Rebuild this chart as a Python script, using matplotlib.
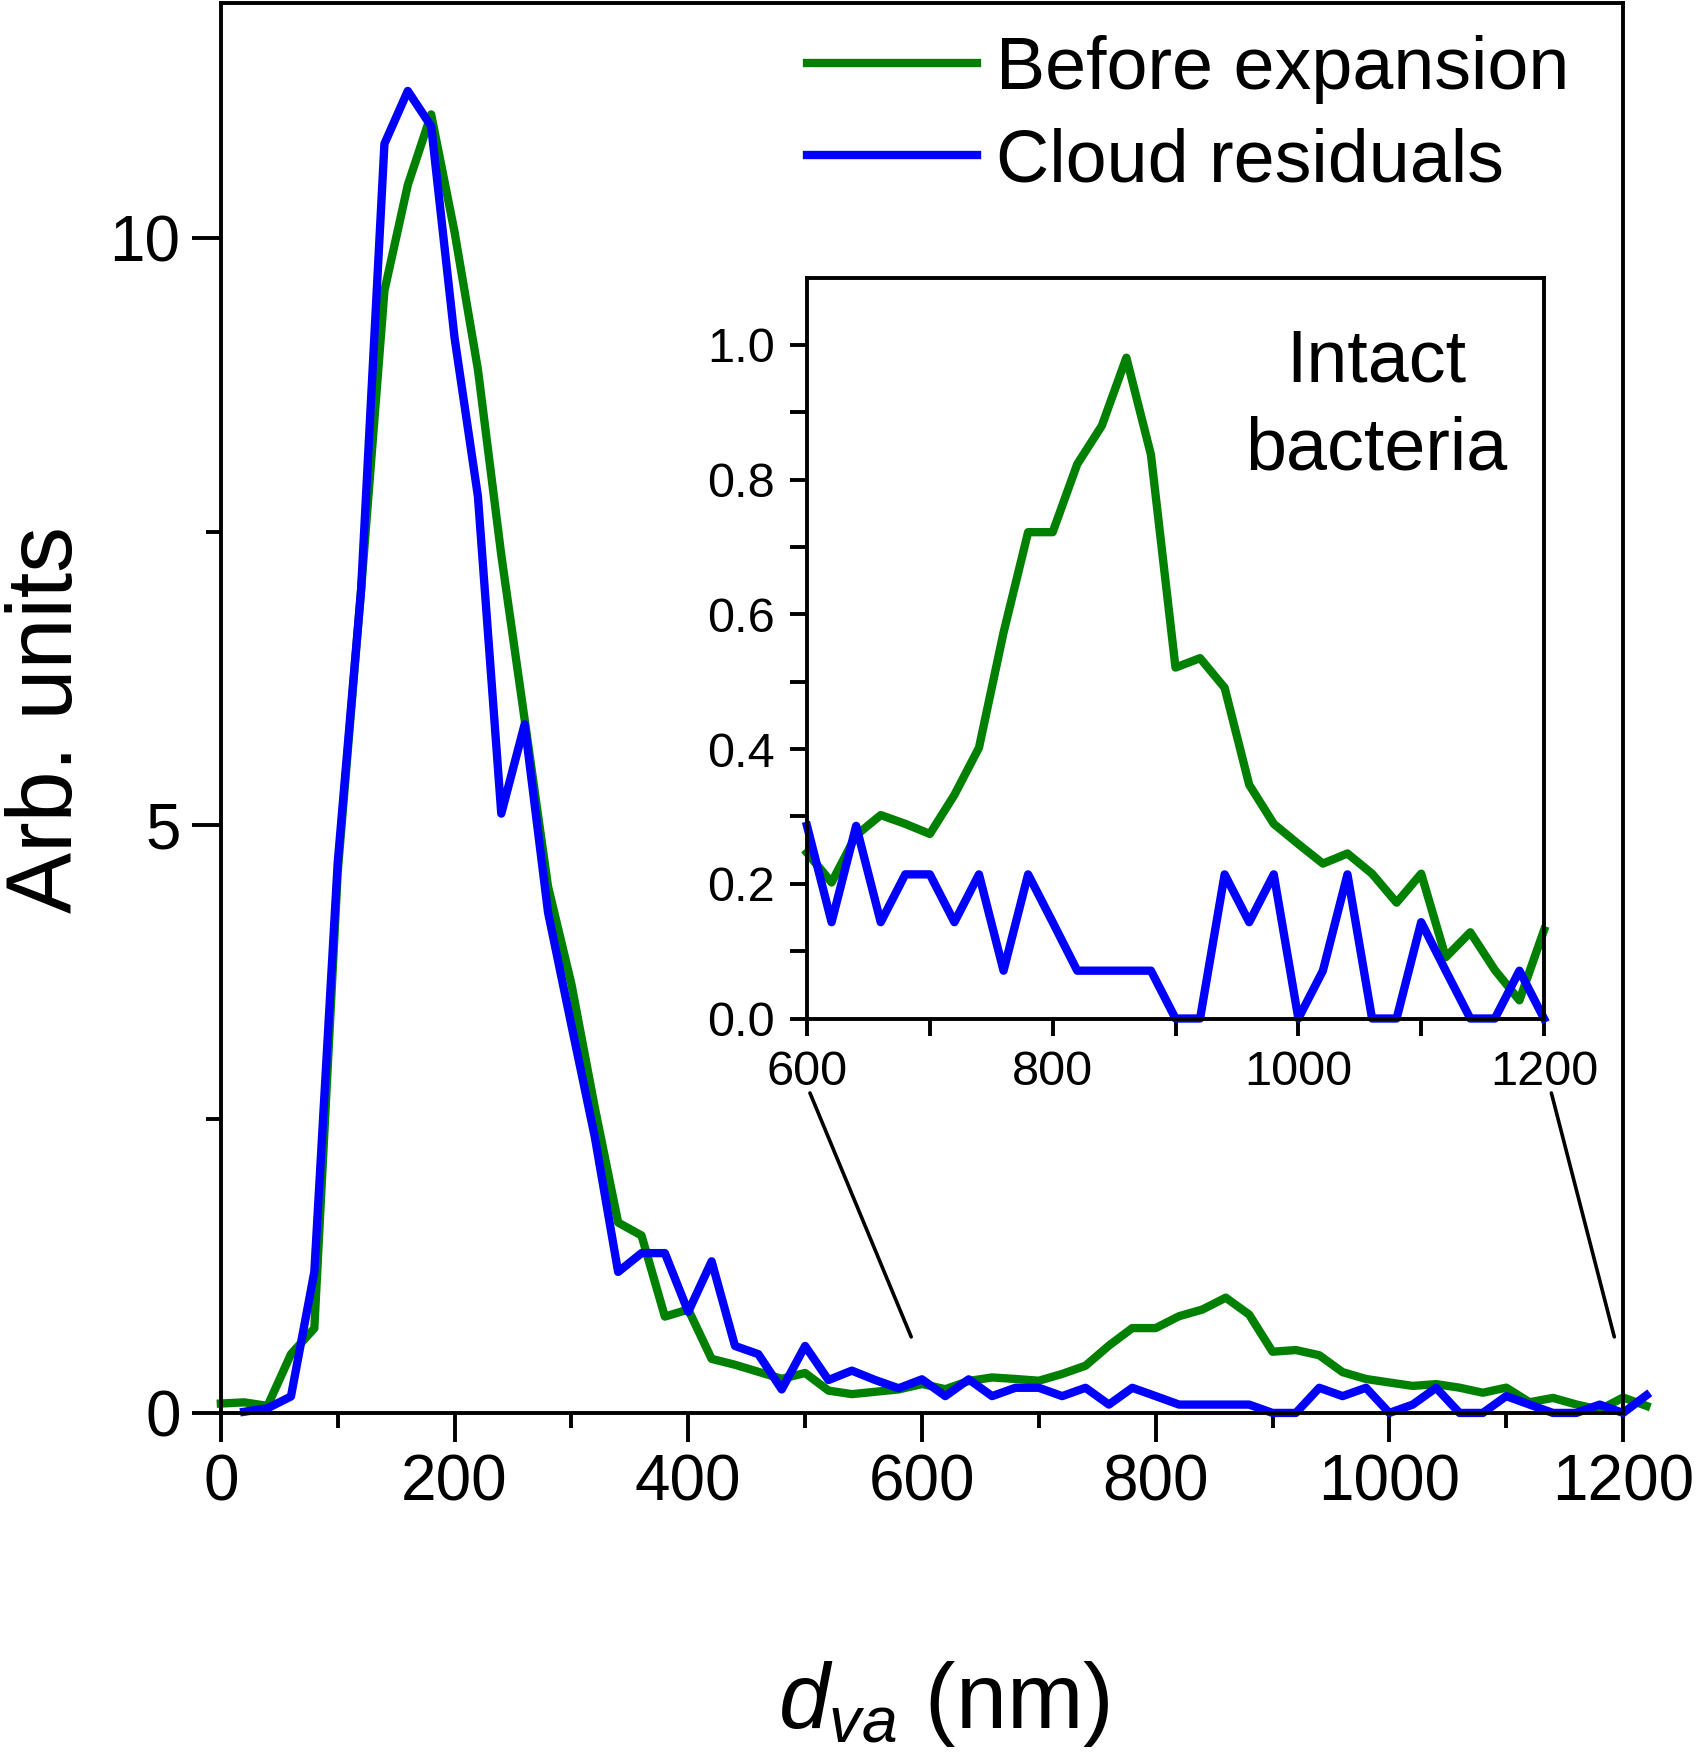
"""
Size distribution (d_va) of particles before expansion and of cloud residuals,
with an inset zooming on the intact bacteria mode (600-1200 nm).
"""
import matplotlib
matplotlib.use("Agg")
import matplotlib.pyplot as plt
from matplotlib.ticker import MultipleLocator, FixedLocator
from matplotlib.patches import ConnectionPatch

plt.rcParams['font.family'] = ['Liberation Sans', 'DejaVu Sans']
plt.rcParams['mathtext.fontset'] = 'custom'
plt.rcParams['mathtext.rm'] = 'Liberation Sans'
plt.rcParams['mathtext.it'] = 'Liberation Sans:italic'

# size bins (nm)
d_before = list(range(0, 1221, 20))
d_resid = list(range(20, 1221, 20))

# Before expansion (green), 0 ... 1220 nm
before = [0.08, 0.09, 0.06, 0.50, 0.72, 4.60, 7.00, 9.55, 10.45, 11.05,
          10.05, 8.88, 7.30, 5.90, 4.48, 3.65, 2.60, 1.62, 1.51, 0.82,
          0.88, 0.46, 0.41, 0.35, 0.29, 0.34, 0.19, 0.16, 0.18, 0.20,
          0.246, 0.202, 0.272, 0.302, 0.289, 0.274, 0.332, 0.402, 0.573, 0.722,
          0.722, 0.823, 0.880, 0.981, 0.837, 0.521, 0.535, 0.491, 0.347, 0.289,
          0.259, 0.230, 0.245, 0.215, 0.172, 0.215, 0.091, 0.128, 0.072, 0.027,
          0.131, 0.06]

# Cloud residuals (blue), 20 ... 1220 nm
resid = [0.01, 0.04, 0.14, 1.20, 4.68, 7.00, 10.80, 11.25, 10.95,
         9.15, 7.80, 5.10, 5.86, 4.26, 3.30, 2.35, 1.20, 1.36, 1.36,
         0.86, 1.29, 0.57, 0.50, 0.20, 0.57, 0.28, 0.36, 0.28, 0.21,
         0.286, 0.143, 0.286, 0.143, 0.214, 0.214, 0.143, 0.214, 0.071, 0.214,
         0.143, 0.071, 0.071, 0.071, 0.071, 0.0, 0.0, 0.214, 0.143, 0.214,
         0.0, 0.071, 0.214, 0.0, 0.0, 0.143, 0.071, 0.0, 0.0, 0.071,
         0.0, 0.15]

labels = ['Before expansion', 'Cloud residuals']
colors = ['#008000', '#0000ff']
LW = 3.0

fig = plt.figure(figsize=(8.52, 8.8), dpi=200)
ax = fig.add_axes([0.1296, 0.1972, 0.8229, 0.8012])

ax.plot(d_before, before, color=colors[0], lw=LW, label=labels[0], clip_on=False)
ax.plot(d_resid, resid, color=colors[1], lw=LW, label=labels[1], clip_on=False)

ax.set_xlim(0, 1200)
ax.set_ylim(0, 12)
ax.xaxis.set_major_locator(MultipleLocator(200))
ax.xaxis.set_minor_locator(MultipleLocator(100))
ax.yaxis.set_major_locator(FixedLocator([0, 5, 10]))
ax.yaxis.set_minor_locator(FixedLocator([2.5, 7.5]))
ax.tick_params(which='both', direction='out', width=1.4, top=False, right=False)
ax.tick_params(which='major', length=10.5, labelsize=23, pad=4)
ax.tick_params(which='minor', length=5.3)
for s in ax.spines.values():
    s.set_linewidth(1.4)

leg = ax.legend(loc='upper left', bbox_to_anchor=(0.418, 0.9775), frameon=False,
                fontsize=26.5, handlelength=2.31, handletextpad=0.26,
                labelspacing=0.32, borderpad=0, borderaxespad=0)

fig.text(0.028, 0.5912, 'Arb. units', rotation=90, ha='center', va='center', fontsize=33)
fig.text(0.5538, 0.0318, r'$d_{va}$ (nm)', ha='center', va='center', fontsize=33)

# inset: intact bacteria
ins = fig.add_axes([0.4736, 0.4213, 0.4325, 0.421])
ib = [(d, v) for d, v in zip(d_before, before) if 600 <= d <= 1200]
ir = [(d, v) for d, v in zip(d_resid, resid) if 600 <= d <= 1200]
ins.plot([p[0] for p in ib], [p[1] for p in ib], color=colors[0], lw=LW, clip_on=False)
ins.plot([p[0] for p in ir], [p[1] for p in ir], color=colors[1], lw=LW, clip_on=False)
ins.set_xlim(600, 1200)
ins.set_ylim(0, 1.1)
ins.xaxis.set_major_locator(MultipleLocator(200))
ins.xaxis.set_minor_locator(FixedLocator([700, 900, 1100]))
ins.yaxis.set_major_locator(FixedLocator([0, 0.2, 0.4, 0.6, 0.8, 1.0]))
ins.yaxis.set_minor_locator(FixedLocator([0.1, 0.3, 0.5, 0.7, 0.9]))
ins.yaxis.set_major_formatter(matplotlib.ticker.FormatStrFormatter('%.1f'))
ins.tick_params(which='both', direction='out', length=6, width=1.4,
                labelsize=17.5, pad=5.5, top=False, right=False)
for s in ins.spines.values():
    s.set_linewidth(1.4)
ins.text(0.773, 0.827, 'Intact\nbacteria', transform=ins.transAxes, ha='center',
         va='center', fontsize=26.5, linespacing=1.35)

# connector lines from inset to the zoomed range
for xa, xb in [(0.004, 590.8), (1.010, 1192.5)]:
    con = ConnectionPatch(xyA=(xa, -0.1005), coordsA=ins.transAxes,
                          xyB=(xb, 0.647), coordsB=ax.transData,
                          color='black', lw=1.3)
    fig.add_artist(con)

fig.savefig('out.png', dpi=200)
